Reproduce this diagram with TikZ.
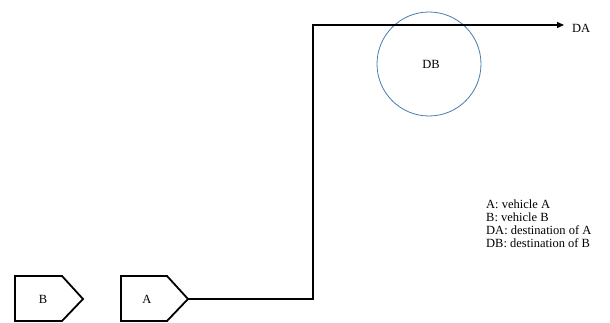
\documentclass[tikz,border=0pt]{standalone}
\usepackage{fontspec}
\setmainfont{Liberation Serif}
\usetikzlibrary{arrows.meta}
\begin{document}
\begin{tikzpicture}[x=1pt,y=-1pt,
  vehicle/.style={draw=black,line width=1.8pt,line join=miter},
  route/.style={draw=black,line width=1.3pt},
  label/.style={font=\fontsize{12.5}{13}\selectfont,inner sep=0pt},
  zone/.style={draw={rgb,255:red,74;green,122;blue,176},line width=0.8pt}]
  \useasboundingbox (0,0) rectangle (610,323);

  % vehicle B
  \draw[vehicle] (15,276) -- (62,276) -- (83,299) -- (62,321) -- (15,321) -- cycle;
  \node[label] (B) at (43,299) {B};

  % vehicle A
  \draw[vehicle] (121,276) -- (167,276) -- (188,299) -- (167,321) -- (121,321) -- cycle;
  \node[label] (A) at (147,299) {A};
  \coordinate (Atip) at (188,299);

  % destination zone of B
  \node[zone,circle,minimum size=104pt,inner sep=0pt] (zoneB) at (429,64) {};
  \node[label] (DB) at (431,64) {DB};

  % route of A to its destination
  \coordinate (turn1) at (313,299);
  \coordinate (turn2) at (313,25);
  \coordinate (Aend) at (564,25);
  \node[label,anchor=west] (DA) at (572,28.5) {DA};
  \draw[route,-{Triangle[length=7pt,width=6pt]}] (Atip) -- (turn1) -- (turn2) -- (Aend);

  % legend
  \node[label,anchor=north west,align=left] (legend) at (486,200)
    {A: vehicle A\\B: vehicle B\\DA: destination of A\\DB: destination of B};
\end{tikzpicture}
\end{document}
